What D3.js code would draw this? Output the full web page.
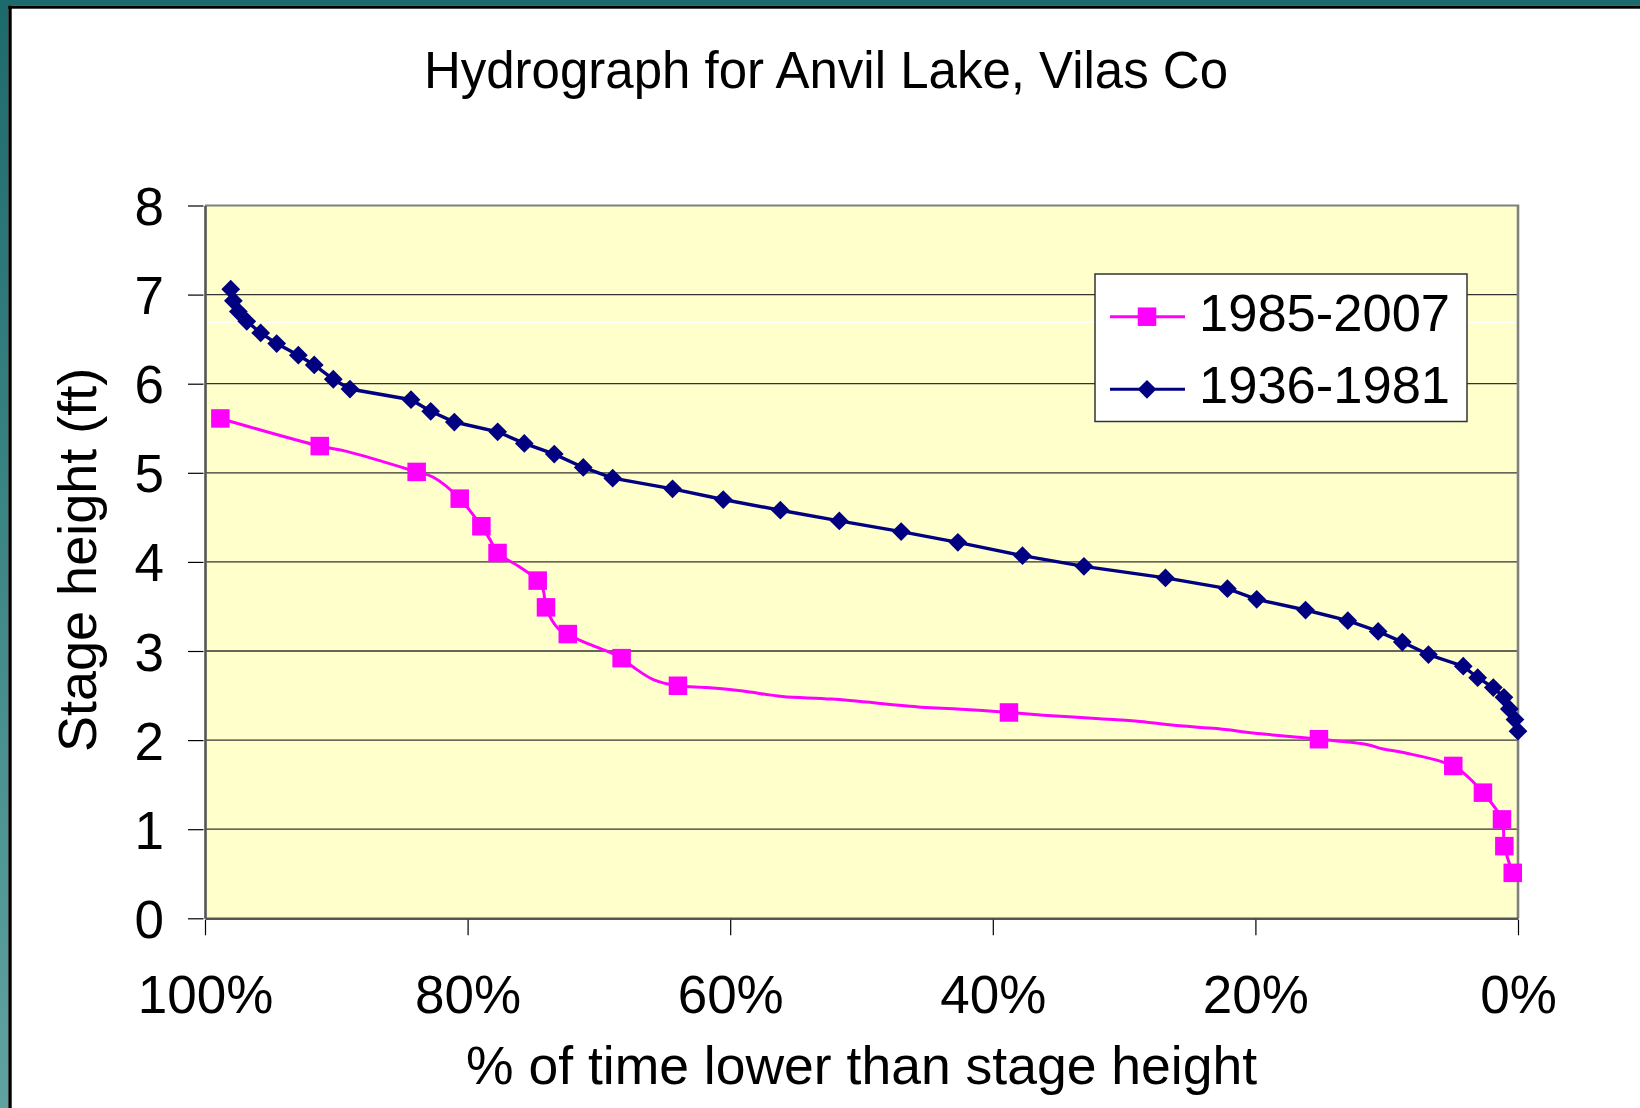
<!DOCTYPE html>
<html>
<head>
<meta charset="utf-8">
<script src="https://cdn.jsdelivr.net/npm/d3@7"></script>
<style>
  html, body { margin: 0; padding: 0; background: #ffffff; }
  svg { display: block; font-family: "Liberation Sans", Arial, sans-serif; }
</style>
</head>
<body>
<svg id="chart" width="1640" height="1108"></svg>
<script>
// ---------------- DATA ----------------
const chartTitle = "Hydrograph for Anvil Lake, Vilas Co";
const xAxisTitle = "% of time lower than stage height";
const yAxisTitle = "Stage height (ft)";
const seriesNames = ["1985-2007", "1936-1981"];

const xTickValues = [100, 80, 60, 40, 20, 0];
const xTickLabels = ["100%", "80%", "60%", "40%", "20%", "0%"];
const yTickValues = [0, 1, 2, 3, 4, 5, 6, 7, 8];

// 1936-1981 (navy, diamonds)
const oldPct = [98.04, 97.84, 97.46, 96.82, 95.76, 94.54, 92.89, 91.68, 90.23, 88.96,
  84.31, 82.81, 81.01, 77.71, 75.68, 73.40, 71.19, 68.95, 64.39, 60.53,
  56.18, 51.69, 46.98, 42.66, 37.74, 33.06, 26.85, 22.13, 19.90, 16.18,
  12.96, 10.65, 8.81, 6.82, 4.17, 3.07, 1.88, 1.07, 0.66, 0.23, 0.0];
const oldStage = [7.06, 6.93, 6.81, 6.70, 6.57, 6.45, 6.32, 6.21, 6.05, 5.94,
  5.82, 5.69, 5.57, 5.46, 5.33, 5.21, 5.06, 4.94, 4.82, 4.70,
  4.58, 4.46, 4.34, 4.22, 4.07, 3.95, 3.82, 3.70, 3.58, 3.46,
  3.34, 3.22, 3.10, 2.96, 2.83, 2.70, 2.59, 2.48, 2.35, 2.23, 2.10];

// 1985-2007 (magenta) full line vertices
const newLinePct = [98.83, 91.26, 89.21, 83.88, 82.61, 80.60, 78.95, 78.29, 77.72, 76.11,
  74.66, 74.23, 74.03, 73.09, 72.37, 71.44, 69.92, 68.27, 67.38, 65.86,
  63.98, 61.77, 59.03, 56.05, 52.25, 45.44, 42.73, 38.77, 36.16, 31.85,
  28.79, 25.75, 22.95, 20.16, 17.37, 15.16, 11.53, 10.26, 8.74, 4.93,
  3.41, 2.67, 1.22, 1.04, 0.40];
const newLineStage = [5.61, 5.30, 5.24, 5.01, 4.95, 4.71, 4.40, 4.25, 4.10, 3.95,
  3.79, 3.68, 3.49, 3.25, 3.19, 3.12, 3.03, 2.92, 2.82, 2.68,
  2.61, 2.59, 2.55, 2.49, 2.46, 2.37, 2.35, 2.31, 2.28, 2.24,
  2.21, 2.16, 2.13, 2.08, 2.04, 2.01, 1.95, 1.90, 1.86, 1.71,
  1.53, 1.41, 1.11, 0.81, 0.51];
// 1985-2007 marked points
const newMarkPct = [98.83, 91.26, 83.88, 80.60, 78.95, 77.72, 74.66, 74.03, 72.37, 68.27,
  63.98, 38.77, 15.16, 4.93, 2.67, 1.22, 1.04, 0.40];
const newMarkStage = [5.61, 5.30, 5.01, 4.71, 4.40, 4.10, 3.79, 3.49, 3.19, 2.92,
  2.61, 2.31, 2.01, 1.71, 1.41, 1.11, 0.81, 0.51];

// ---------------- DRAW ----------------
const svg = d3.select("#chart");
const W = 1640, H = 1108;
const plot = { left: 205, right: 1518, top: 205.5, bottom: 918.3 };

const x = d3.scaleLinear().domain([100, 0]).range([plot.left, plot.right]);
const y = d3.scaleLinear().domain([0, 8]).range([plot.bottom, plot.top]);

// slide frame
const defs = svg.append("defs");
const grad = defs.append("linearGradient").attr("id", "teal").attr("x1", 0).attr("y1", 0).attr("x2", 0).attr("y2", 1);
grad.append("stop").attr("offset", "0%").attr("stop-color", "#1d6a6c");
grad.append("stop").attr("offset", "100%").attr("stop-color", "#5fa3a1");
svg.append("rect").attr("x", 0).attr("y", 0).attr("width", W).attr("height", H).attr("fill", "#ffffff");
svg.append("rect").attr("x", 0).attr("y", 0).attr("width", 8.3).attr("height", H).attr("fill", "url(#teal)");
svg.append("rect").attr("x", 0).attr("y", 0).attr("width", W).attr("height", 5.7).attr("fill", "#1d6a6c");
svg.append("rect").attr("x", 8.3).attr("y", 5.7).attr("width", 3.4).attr("height", H).attr("fill", "#000");
svg.append("rect").attr("x", 8.3).attr("y", 5.7).attr("width", W).attr("height", 3).attr("fill", "#000");

// title
svg.append("text").attr("x", 826).attr("y", 88).attr("text-anchor", "middle")
  .attr("font-size", 51).attr("fill", "#000").text(chartTitle);

// plot background
svg.append("rect").attr("x", plot.left).attr("y", plot.top)
  .attr("width", plot.right - plot.left).attr("height", plot.bottom - plot.top)
  .attr("fill", "#ffffcc");

// gridlines
svg.append("g").selectAll("line").data(yTickValues.filter(v => v > 0 && v < 8)).join("line")
  .attr("x1", plot.left).attr("x2", plot.right)
  .attr("y1", d => y(d)).attr("y2", d => y(d))
  .attr("stroke", "#333").attr("stroke-width", 1.3);

// faint white artefact line
svg.append("line").attr("x1", plot.left).attr("x2", plot.right)
  .attr("y1", 322.5).attr("y2", 322.5).attr("stroke", "#ffffff").attr("stroke-width", 1);

// plot border top/right
svg.append("line").attr("x1", plot.left).attr("x2", plot.right + 1.2).attr("y1", plot.top).attr("y2", plot.top)
  .attr("stroke", "#808080").attr("stroke-width", 2.2);
svg.append("line").attr("x1", plot.right).attr("x2", plot.right).attr("y1", plot.top).attr("y2", plot.bottom)
  .attr("stroke", "#808080").attr("stroke-width", 2.6);

// axes
const xAxis = d3.axisBottom(x).tickValues(xTickValues)
  .tickFormat((d, i) => xTickLabels[i]).tickSize(17).tickSizeOuter(0);
const gx = svg.append("g").attr("transform", `translate(0,${plot.bottom})`).call(xAxis);
gx.select(".domain").attr("stroke", "#555").attr("stroke-width", 2.6);
gx.selectAll(".tick line").attr("stroke", "#000").attr("stroke-width", 1.2).attr("y1", 1.5);
gx.selectAll(".tick text").attr("y", 1013 - plot.bottom).attr("dy", 0)
  .attr("font-size", 53).attr("fill", "#000")
  .attr("font-family", "'Liberation Sans', Arial, sans-serif");

const yAxis = d3.axisLeft(y).tickValues(yTickValues).tickFormat(d3.format("d"))
  .tickSize(17).tickSizeOuter(0);
const gy = svg.append("g").attr("transform", `translate(${plot.left},0)`).call(yAxis);
gy.select(".domain").attr("stroke", "#555").attr("stroke-width", 2.6);
gy.selectAll(".tick line").attr("stroke", "#000").attr("stroke-width", 1.2).attr("x1", -1.5);
gy.selectAll(".tick text").attr("x", 164 - plot.left).attr("dy", 19)
  .attr("font-size", 53).attr("fill", "#000")
  .attr("font-family", "'Liberation Sans', Arial, sans-serif");

// axis titles
svg.append("text").attr("x", (plot.left + plot.right) / 2).attr("y", 1084)
  .attr("text-anchor", "middle").attr("font-size", 53.5).attr("fill", "#000").text(xAxisTitle);
svg.append("text").attr("transform", `translate(96,${(plot.top + plot.bottom) / 2 - 2}) rotate(-90)`)
  .attr("text-anchor", "middle").attr("font-size", 54).attr("fill", "#000").text(yAxisTitle);

// series
const oldData = oldPct.map((p, i) => ({ p, v: oldStage[i] }));
const newLine = newLinePct.map((p, i) => ({ p, v: newLineStage[i] }));
const newMarks = newMarkPct.map((p, i) => ({ p, v: newMarkStage[i] }));

const magenta = "#ff00ff", navy = "#000080";

svg.append("path").datum(newLine)
  .attr("d", d3.line().x(d => x(d.p)).y(d => y(d.v)).curve(d3.curveCatmullRom.alpha(0.5)))
  .attr("fill", "none").attr("stroke", magenta).attr("stroke-width", 3);

svg.append("path").datum(oldData)
  .attr("d", d3.line().x(d => x(d.p)).y(d => y(d.v)))
  .attr("fill", "none").attr("stroke", navy).attr("stroke-width", 3.4);

const sq = 18.5;
svg.append("g").selectAll("rect").data(newMarks).join("rect")
  .attr("x", d => x(d.p) - sq / 2).attr("y", d => y(d.v) - sq / 2)
  .attr("width", sq).attr("height", sq).attr("fill", magenta);

const diamond = d3.symbol().type(d3.symbolSquare).size(176);
svg.append("g").selectAll("path").data(oldData).join("path")
  .attr("d", diamond)
  .attr("transform", d => `translate(${x(d.p)},${y(d.v)}) rotate(45)`)
  .attr("fill", navy);

// legend
const lg = svg.append("g");
lg.append("rect").attr("x", 1095).attr("y", 274).attr("width", 372).attr("height", 147.5)
  .attr("fill", "#ffffff").attr("stroke", "#333").attr("stroke-width", 1.5);
const rows = [
  { name: seriesNames[0], color: magenta, y: 316.7, baseline: 331, type: "square" },
  { name: seriesNames[1], color: navy, y: 389.3, baseline: 403, type: "diamond" }
];
rows.forEach(r => {
  lg.append("line").attr("x1", 1110).attr("x2", 1185).attr("y1", r.y).attr("y2", r.y)
    .attr("stroke", r.color).attr("stroke-width", 3);
  if (r.type === "square") {
    lg.append("rect").attr("x", 1147 - sq / 2).attr("y", r.y - sq / 2).attr("width", sq).attr("height", sq).attr("fill", r.color);
  } else {
    lg.append("path").attr("d", diamond).attr("transform", `translate(1147,${r.y}) rotate(45)`).attr("fill", r.color);
  }
  lg.append("text").attr("x", 1199).attr("y", r.baseline).attr("font-size", 52.5).attr("fill", "#000").text(r.name);
});
</script>
</body>
</html>
